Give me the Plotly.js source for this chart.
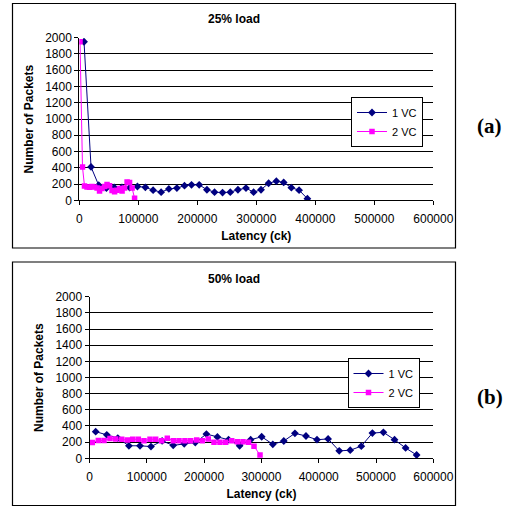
<!DOCTYPE html>
<html>
<head>
<meta charset="utf-8">
<script src="https://cdn.plot.ly/plotly-3.0.1.min.js"></script>
<style>html,body{margin:0;padding:0;background:#fff;}#chart{width:506px;height:506px;}</style>
</head>
<body>
<div id="chart"></div>
<script>
// Chart (a): 25% load
var a1x = [8000,19900,32900,46000,59100,72300,85400,98500,112000,125100,138700,151800,165400,178300,190200,203200,216300,229200,242800,255900,268900,282500,295400,308000,320900,334000,346400,359400,372500,386600];
var a1y = [1950,410,185,150,160,160,155,170,160,125,100,140,150,180,190,190,130,100,95,100,130,150,100,130,210,235,220,155,125,20];
var a2x = [1200,5400,8800,13100,17300,21600,25800,30100,34300,38500,42800,47000,51300,55500,59800,64000,68300,72500,76700,81000,85200,89500,93700];
var a2y = [1950,410,175,165,160,170,165,150,115,145,170,195,180,120,105,125,145,115,150,225,220,150,25];
// Chart (b): 50% load
var b1x = [10800,30200,49400,68800,88100,107300,126700,146100,165300,184600,204000,223200,242600,262000,281200,300500,319900,339100,358500,377800,397000,416400,435800,455000,474300,493700,512900,532300,551700,570900];
var b1y = [330,290,250,155,155,145,215,160,180,195,300,265,230,155,230,267,173,214,309,276,230,240,92,100,150,312,322,230,128,41];
var b2x = [4900,15400,25300,35800,45700,56200,66000,75400,85200,95100,105600,115500,126000,135800,146200,156200,166600,176600,187100,196900,207300,217300,227700,237700,248200,258000,267900,277500,287100,297600];
var b2y = [195,220,220,245,240,235,226,235,235,218,235,235,218,247,218,218,218,218,226,218,239,198,198,198,218,206,206,198,150,41];

var seriesNames = ['1 VC', '2 VC'];
var chartTitles = ['25% load', '50% load'];
var panelLabels = ['(a)', '(b)'];
var xTitle = 'Latency (ck)';
var yTitle = 'Number of Packets';

var W = 506, H = 506;
function px(x){ return x / W; }
function py(y){ return 1 - y / H; }

var navy = '#000080', magenta = '#FF00FF';
var FONT = 'Liberation Sans, Arial, sans-serif';

function s1(x, y, xa, ya, lg){
  return {x:x, y:y, xaxis:xa, yaxis:ya, legend:lg, name:seriesNames[0], type:'scatter', mode:'lines+markers',
    line:{color:navy, width:1}, marker:{symbol:'diamond', size:6, color:navy}};
}
function s2(x, y, xa, ya, lg){
  return {x:x, y:y, xaxis:xa, yaxis:ya, legend:lg, name:seriesNames[1], type:'scatter', mode:'lines+markers',
    line:{color:magenta, width:1}, marker:{symbol:'square', size:5.5, color:magenta}};
}

var data = [
  s1(a1x, a1y, 'x', 'y', 'legend'),
  s2(a2x, a2y, 'x', 'y', 'legend'),
  s1(b1x, b1y, 'x2', 'y2', 'legend2'),
  s2(b2x, b2y, 'x2', 'y2', 'legend2')
];

function xax(dom, anchor){
  return {domain:dom, anchor:anchor, range:[0,600000], dtick:100000, tick0:0, tickformat:'d',
    showgrid:false, zeroline:false, showline:true, linecolor:'#000', linewidth:1,
    ticks:'outside', ticklen:4, tickcolor:'#000', tickfont:{size:12, color:'#000', family:FONT},
    ticklabelstandoff:3,
    title:{text:'<b>'+xTitle+'</b>', font:{size:12, color:'#000', family:FONT}, standoff:6},
    fixedrange:true};
}
function yax(dom, anchor){
  return {domain:dom, anchor:anchor, range:[0,2000], dtick:200, tick0:0, tickformat:'d',
    showgrid:true, gridcolor:'#000', gridwidth:1, zeroline:false, showline:true, linecolor:'#000', linewidth:1,
    ticks:'outside', ticklen:4, tickcolor:'#000', tickfont:{size:12, color:'#000', family:FONT},
    fixedrange:true};
}

var LEGFONT = {size:11, family:FONT, color:'#000'};
var layout = {
  width:W, height:H, margin:{l:0, r:0, t:0, b:0}, paper_bgcolor:'#fff', plot_bgcolor:'#fff',
  font:{family:FONT, color:'#000', size:12},
  showlegend:true,
  xaxis: xax([px(79.3), px(433.3)], 'y'),
  yaxis: yax([py(200.3), py(37.7)], 'x'),
  xaxis2: xax([px(89.5), px(433.3)], 'y2'),
  yaxis2: yax([py(458.3), py(296.7)], 'x2'),
  legend:{x:px(387), y:py(97), xanchor:'center', yanchor:'top', bgcolor:'#fff', bordercolor:'#000', borderwidth:1,
    font:LEGFONT, itemwidth:30, tracegroupgap:0},
  legend2:{x:px(383.5), y:py(358), xanchor:'center', yanchor:'top', bgcolor:'#fff', bordercolor:'#000', borderwidth:1,
    font:LEGFONT, itemwidth:30, tracegroupgap:0},
  shapes:[
    {type:'rect', xref:'paper', yref:'paper', x0:px(12.5), x1:px(455.5), y0:py(248), y1:py(3.5), line:{color:'#000', width:1.2}},
    {type:'rect', xref:'paper', yref:'paper', x0:px(12.5), x1:px(455.5), y0:py(505.5), y1:py(262), line:{color:'#000', width:1.2}}
  ],
  annotations:[
    {text:'<b>'+chartTitles[0]+'</b>', xref:'paper', yref:'paper', x:px(234), y:py(19), xanchor:'center', yanchor:'middle', showarrow:false, font:{size:12, family:FONT, color:'#000'}},
    {text:'<b>'+chartTitles[1]+'</b>', xref:'paper', yref:'paper', x:px(234), y:py(279), xanchor:'center', yanchor:'middle', showarrow:false, font:{size:12, family:FONT, color:'#000'}},
    {text:'<b>'+yTitle+'</b>', xref:'paper', yref:'paper', x:px(28.5), y:py(119), xanchor:'center', yanchor:'middle', textangle:-90, showarrow:false, font:{size:12, family:FONT, color:'#000'}},
    {text:'<b>'+yTitle+'</b>', xref:'paper', yref:'paper', x:px(38.5), y:py(377.5), xanchor:'center', yanchor:'middle', textangle:-90, showarrow:false, font:{size:12, family:FONT, color:'#000'}},
    {text:'<b>'+panelLabels[0]+'</b>', xref:'paper', yref:'paper', x:px(489), y:py(126), xanchor:'center', yanchor:'middle', showarrow:false, font:{size:21, family:'Liberation Serif, Times New Roman, serif', color:'#000'}},
    {text:'<b>'+panelLabels[1]+'</b>', xref:'paper', yref:'paper', x:px(490), y:py(397), xanchor:'center', yanchor:'middle', showarrow:false, font:{size:21, family:'Liberation Serif, Times New Roman, serif', color:'#000'}}
  ]
};

Plotly.newPlot('chart', data, layout, {staticPlot:true, displayModeBar:false});
</script>
</body>
</html>
